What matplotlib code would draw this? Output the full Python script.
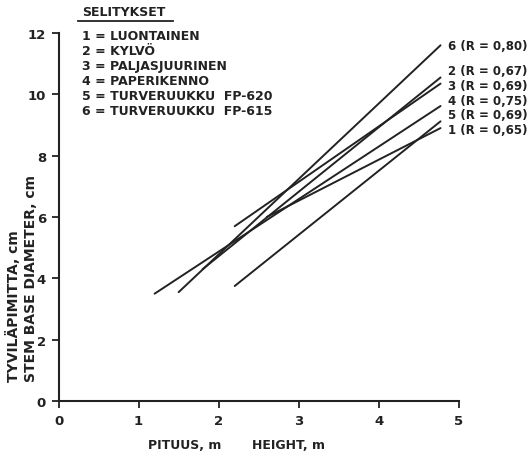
import matplotlib.pyplot as plt

# regression lines: stem base diameter vs height
series = ['1', '2', '3', '4', '5', '6']
names = ['LUONTAINEN', 'KYLVÖ', 'PALJASJUURINEN', 'PAPERIKENNO',
         'TURVERUUKKU  FP-620', 'TURVERUUKKU  FP-615']
x_start = [2.6, 1.8, 2.2, 1.2, 2.2, 1.5]
y_start = [6.0, 4.3, 5.7, 3.5, 3.75, 3.55]
x_end = [4.77, 4.77, 4.77, 4.77, 4.77, 4.77]
y_end = [8.9, 10.55, 10.35, 9.62, 9.12, 11.6]
r_values = ['0,65', '0,67', '0,69', '0,75', '0,69', '0,80']

plt.rcParams['font.family'] = ['DejaVu Sans']
plt.rcParams['font.weight'] = 'bold'
ink = '#222222'

fig = plt.figure(figsize=(5.29, 4.56), dpi=100)
ax = fig.add_axes([0.1106, 0.1184, 0.757, 0.807])

for i in range(len(series)):
    ax.plot([x_start[i], x_end[i]], [y_start[i], y_end[i]], color=ink, lw=1.4,
            solid_capstyle='round')

# end labels, stacked like in the original
label_y = [8.87, 10.77, 10.28, 9.81, 9.33, 11.58]
for i in range(len(series)):
    ax.text(4.86, label_y[i], '%s (R = %s)' % (series[i], r_values[i]),
            fontsize=8.5, color=ink, va='center', ha='left')

ax.set_xlim(0, 5)
ax.set_ylim(0, 12)
ax.set_xticks([0, 1, 2, 3, 4, 5])
ax.set_yticks([0, 2, 4, 6, 8, 10, 12])
ax.spines['top'].set_visible(False)
ax.spines['right'].set_visible(False)
for s in ['left', 'bottom']:
    ax.spines[s].set_linewidth(1.5)
    ax.spines[s].set_color(ink)
ax.tick_params(length=5, width=1.3, colors=ink, labelsize=9.5, pad=4)

# legend block
fig.text(82 / 529, 1 - 13 / 456, 'SELITYKSET', fontsize=9, color=ink,
         va='center', ha='left')
fig.add_artist(plt.Line2D([78 / 529, 173 / 529], [1 - 22 / 456, 1 - 22 / 456],
                          color=ink, lw=1.3))
for i in range(len(series)):
    fig.text(82 / 529, 1 - (36.7 + 15 * i) / 456, '%s = %s' % (series[i], names[i]),
             fontsize=9, color=ink, va='center', ha='left')

fig.text(237 / 529, 1 - 446 / 456, 'PITUUS, m       HEIGHT, m', fontsize=9,
         color=ink, ha='center', va='center')
fig.text(14 / 529, 1 - 382 / 456, 'TYVILÄPIMITTA, cm', fontsize=10, color=ink,
         rotation=90, ha='center', va='bottom')
fig.text(31 / 529, 1 - 382 / 456, 'STEM BASE DIAMETER, cm', fontsize=10,
         color=ink, rotation=90, ha='center', va='bottom')

fig.savefig('out.png', dpi=100)
